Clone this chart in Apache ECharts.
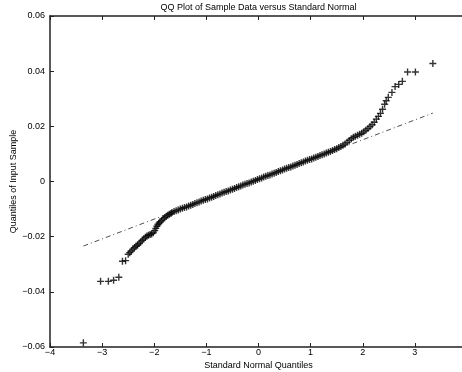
<!DOCTYPE html>
<html>
<head>
<meta charset="utf-8">
<script src="https://cdn.jsdelivr.net/npm/echarts@6/dist/echarts.min.js"></script>
<style>html,body{margin:0;padding:0;background:#fff;}#c{width:462px;height:372px;}</style>
</head>
<body>
<div id="c"></div>
<script>
// Standard normal quantiles (x) and matching sample quantiles (y)
var theoreticalQuantiles = [
  -3.36, -3.03, -2.88, -2.78, -2.68, -2.61, -2.55,
  -2.50, -2.47, -2.44, -2.41, -2.38, -2.35, -2.32, -2.29, -2.26, -2.23, -2.20, -2.17, -2.14, -2.11, -2.08, -2.05, -2.02,
  -1.99, -1.97, -1.95, -1.93, -1.91, -1.89, -1.86, -1.83, -1.80, -1.77, -1.74, -1.71, -1.68,
  -1.66, -1.62, -1.58, -1.54, -1.50, -1.46, -1.42, -1.38, -1.34, -1.30, -1.26, -1.22, -1.18, -1.14, -1.10, -1.06, -1.02,
  -0.98, -0.94, -0.90, -0.86, -0.82, -0.78, -0.74, -0.70, -0.66, -0.62, -0.58, -0.54, -0.50, -0.46, -0.42, -0.38, -0.34,
  -0.30, -0.26, -0.22, -0.18, -0.14, -0.10, -0.06, -0.02, 0.02, 0.06, 0.10, 0.14, 0.18, 0.22, 0.26, 0.30, 0.34,
  0.38, 0.42, 0.46, 0.50, 0.54, 0.58, 0.62, 0.66, 0.70, 0.74, 0.78, 0.82, 0.86, 0.90, 0.94, 0.98, 1.02,
  1.06, 1.10, 1.14, 1.18, 1.22, 1.26, 1.30, 1.34,
  1.38, 1.42, 1.46, 1.50, 1.54, 1.58, 1.62, 1.66, 1.70, 1.74, 1.78, 1.82, 1.86, 1.90, 1.94, 1.98,
  2.02, 2.06, 2.10, 2.14, 2.18, 2.22, 2.26, 2.30, 2.34, 2.38, 2.42, 2.45, 2.49, 2.56, 2.62, 2.69, 2.76,
  2.86, 3.01, 3.345
];
var sampleQuantiles = [
  -0.0585, -0.0362, -0.0362, -0.0358, -0.0347, -0.0289, -0.0287,
  -0.0264, -0.0258, -0.0252, -0.0245, -0.0240, -0.0235, -0.0230, -0.0225, -0.0219, -0.0213, -0.0208, -0.0202, -0.0198, -0.0195, -0.0192, -0.0190, -0.0186,
  -0.0178, -0.0170, -0.0162, -0.0156, -0.0151, -0.0147, -0.0142, -0.0136, -0.0131, -0.0126, -0.0122, -0.0119, -0.0116,
  -0.0112, -0.0109, -0.0106, -0.0103, -0.0100, -0.0097, -0.0094, -0.0092, -0.0089, -0.0086, -0.0083, -0.0080, -0.0077, -0.0074, -0.0071, -0.0068, -0.0065,
  -0.0063, -0.0060, -0.0057, -0.0054, -0.0051, -0.0048, -0.0045, -0.0042, -0.0039, -0.0036, -0.0034, -0.0031, -0.0028, -0.0025, -0.0022, -0.0019, -0.0016,
  -0.0013, -0.0010, -0.0007, -0.0005, -0.0002, 0.0001, 0.0004, 0.0007, 0.0010, 0.0013, 0.0016, 0.0019, 0.0022, 0.0024, 0.0027, 0.0030, 0.0033,
  0.0036, 0.0039, 0.0042, 0.0045, 0.0048, 0.0051, 0.0053, 0.0056, 0.0059, 0.0062, 0.0065, 0.0068, 0.0071, 0.0074, 0.0077, 0.0080, 0.0082,
  0.0085, 0.0088, 0.0091, 0.0094, 0.0097, 0.0100, 0.0103, 0.0106,
  0.0109, 0.0112, 0.0116, 0.0119, 0.0123, 0.0127, 0.0131, 0.0136, 0.0142, 0.0149, 0.0155, 0.0160, 0.0164, 0.0168, 0.0171, 0.0175,
  0.0180, 0.0186, 0.0192, 0.0199, 0.0206, 0.0215, 0.0226, 0.0236, 0.0247, 0.0262, 0.0280, 0.0293, 0.0305, 0.0323, 0.0344, 0.0352, 0.0363,
  0.0397, 0.0397, 0.0428
];
// Reference (fit) line endpoints
var fitLineX = [-3.36, 3.345];
var fitLineY = [-0.0234, 0.0248];

var points = theoreticalQuantiles.map(function (x, i) { return [x, sampleQuantiles[i]]; });
var fitLine = fitLineX.map(function (x, i) { return [x, fitLineY[i]]; });

var FONT = 'Liberation Sans';
function fmtY(v) {
  if (Math.abs(v) < 1e-9) return '0';
  return v.toFixed(2).replace('-', '\u2212');
}
function fmtX(v) {
  return String(Math.round(v)).replace('-', '\u2212');
}
var axisLineStyle = { color: '#222', width: 1.5 };

var chart = echarts.init(document.getElementById('c'), null, { renderer: 'canvas' });
chart.setOption({
  animation: false,
  backgroundColor: '#fff',
  grid: { left: 50, top: 16, width: 417, height: 331, containLabel: false, outerBoundsMode: 'none' },
  xAxis: [
    {
      type: 'value', position: 'bottom', min: -4, max: 4, interval: 1,
      name: 'Standard Normal Quantiles', nameLocation: 'middle', nameGap: 14, nameMoveOverlap: false,
      nameTextStyle: { fontFamily: FONT, fontSize: 9, color: '#000' },
      axisLine: { onZero: false, lineStyle: axisLineStyle },
      axisTick: { inside: true, length: 4, lineStyle: { color: '#222', width: 1 } },
      axisLabel: { margin: 1, fontFamily: FONT, fontSize: 9, color: '#000', formatter: fmtX },
      splitLine: { show: false }
    },
    {
      type: 'value', position: 'top', min: -4, max: 4, interval: 1,
      name: 'QQ Plot of Sample Data versus Standard Normal', nameLocation: 'middle', nameGap: 3.5,
      nameTextStyle: { fontFamily: FONT, fontSize: 9, color: '#000' },
      axisLine: { onZero: false, lineStyle: axisLineStyle },
      axisTick: { inside: true, length: 4, lineStyle: { color: '#222', width: 1 } },
      axisLabel: { show: false },
      splitLine: { show: false }
    }
  ],
  yAxis: {
    type: 'value', min: -0.06, max: 0.06, interval: 0.02,
    name: 'Quantiles of Input Sample', nameLocation: 'middle', nameGap: 32, nameMoveOverlap: false,
    nameTextStyle: { fontFamily: FONT, fontSize: 9, color: '#000' },
    axisLine: { show: true, onZero: false, lineStyle: axisLineStyle },
    axisTick: { show: true, inside: true, length: 4, lineStyle: { color: '#222', width: 1 } },
    axisLabel: { margin: 5, fontFamily: FONT, fontSize: 9, color: '#000', formatter: fmtY },
    splitLine: { show: false }
  },
  series: [
    {
      type: 'scatter',
      data: points,
      symbol: 'path://M2.4,0H3.6V2.4H6V3.6H3.6V6H2.4V3.6H0V2.4H2.4Z',
      symbolSize: 7,
      itemStyle: { color: '#000' },
      silent: true
    },
    {
      type: 'line',
      data: fitLine,
      symbol: 'none',
      lineStyle: { color: '#222', width: 0.8, type: [5, 3, 1, 3] },
      silent: true
    }
  ]
});
</script>
</body>
</html>
